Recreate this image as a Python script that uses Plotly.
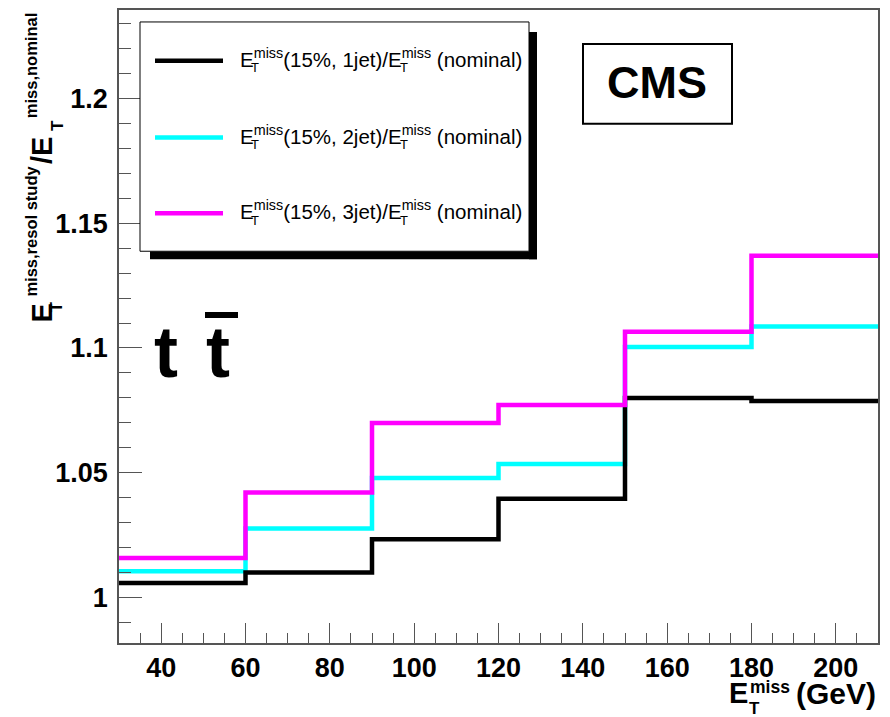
import plotly.graph_objects as go

# ---------------- data ----------------
bin_edges = [30, 60, 90, 120, 150, 180, 210]
ratio_1jet = [1.0057, 1.0099, 1.0232, 1.0395, 1.0799, 1.0787]
ratio_2jet = [1.0104, 1.0275, 1.0478, 1.0534, 1.1004, 1.1086]
ratio_3jet = [1.0157, 1.0420, 1.0699, 1.0771, 1.1065, 1.1370]
series_names = ["1jet", "2jet", "3jet"]
series_colors = ["#000000", "#00ffff", "#ff00ff"]
x_tick_vals = [40, 60, 80, 100, 120, 140, 160, 180, 200]
x_tick_text = ["40", "60", "80", "100", "120", "140", "160", "180", "200"]
y_tick_vals = [1.0, 1.05, 1.1, 1.15, 1.2]
y_tick_text = ["1", "1.05", "1.1", "1.15", "1.2"]
x_range = [30, 210]
y_range = [0.9816, 1.2356]

# ---------------- geometry helpers (pixel -> paper) ----------------
W, H = 890, 717
L, R, T, B = 119, 878, 8, 643


def px(x):
    return (x - L) / (R - L)


def py(y):
    return (B - y) / (B - T)


FONT = "Liberation Sans"

fig = go.Figure()


def step_y(vals):
    return list(vals) + [vals[-1]]


series = {"1jet": ratio_1jet, "2jet": ratio_2jet, "3jet": ratio_3jet}
# drawing order as in the reference: cyan, black, magenta
for name in ["2jet", "1jet", "3jet"]:
    i = series_names.index(name)
    fig.add_trace(go.Scatter(
        x=bin_edges, y=step_y(series[name]), mode="lines",
        line=dict(color=series_colors[i], width=4.5, shape="hv"),
        showlegend=False, hoverinfo="skip"))

shapes = []
annotations = []

# ---------------- custom legend ----------------
# shadow
shapes.append(dict(type="rect", xref="paper", yref="paper", layer="above",
                   x0=px(150), x1=px(537), y0=py(258), y1=py(250),
                   fillcolor="black", line=dict(width=0)))
shapes.append(dict(type="rect", xref="paper", yref="paper", layer="above",
                   x0=px(529), x1=px(537), y0=py(258), y1=py(30),
                   fillcolor="black", line=dict(width=0)))
# box
shapes.append(dict(type="rect", xref="paper", yref="paper", layer="above",
                   x0=px(140), x1=px(529), y0=py(250), y1=py(20),
                   fillcolor="white", line=dict(color="black", width=1)))
row_y = [59, 136, 212]
for i, name in enumerate(series_names):
    yy = row_y[i]
    shapes.append(dict(type="line", xref="paper", yref="paper", layer="above",
                       x0=px(155), x1=px(223), y0=py(yy), y1=py(yy),
                       line=dict(color=series_colors[i], width=4.5)))
    annotations.append(dict(
        xref="paper", yref="paper", x=px(238), y=py(yy - 3),
        xanchor="left", yanchor="middle", showarrow=False,
        text="E<sup>miss</sup>(15%, " + name + ")/E<sup>miss</sup> (nominal)",
        font=dict(family=FONT, size=20.5, color="black")))
    for tx in [254.5, 404]:
        annotations.append(dict(
            xref="paper", yref="paper", x=px(tx), y=py(yy + 7),
            xanchor="center", yanchor="middle", showarrow=False,
            text="T", font=dict(family=FONT, size=13, color="black")))

# ---------------- CMS box ----------------
shapes.append(dict(type="rect", xref="paper", yref="paper", layer="above",
                   x0=px(583), x1=px(732), y0=py(122), y1=py(42),
                   fillcolor="white", line=dict(color="black", width=2)))
annotations.append(dict(xref="paper", yref="paper", x=px(657), y=py(81),
                        xanchor="center", yanchor="middle", showarrow=False,
                        text="<b>CMS</b>",
                        font=dict(family=FONT, size=45, color="black")))

# ---------------- t tbar ----------------
for tx in [166, 217.5]:
    annotations.append(dict(xref="paper", yref="paper", x=px(tx), y=py(351),
                            xanchor="center", yanchor="middle", showarrow=False,
                            text="<b>t</b>",
                            font=dict(family=FONT, size=72, color="black")))
shapes.append(dict(type="rect", xref="paper", yref="paper", layer="above",
                   x0=px(205), x1=px(238), y0=py(317), y1=py(311),
                   fillcolor="black", line=dict(width=0)))

# ---------------- x axis title ----------------
annotations.append(dict(xref="paper", yref="paper", x=px(878), y=py(694),
                        xanchor="right", yanchor="middle", showarrow=False,
                        text="<b>(GeV)</b>",
                        font=dict(family=FONT, size=30, color="black")))
annotations.append(dict(xref="paper", yref="paper", x=px(738), y=py(693),
                        xanchor="center", yanchor="middle", showarrow=False,
                        text="<b>E</b>",
                        font=dict(family=FONT, size=29, color="black")))
annotations.append(dict(xref="paper", yref="paper", x=px(748), y=py(687),
                        xanchor="left", yanchor="middle", showarrow=False,
                        text="<b>miss</b>",
                        font=dict(family=FONT, size=17.5, color="black")))
annotations.append(dict(xref="paper", yref="paper", x=px(754), y=py(709),
                        xanchor="center", yanchor="middle", showarrow=False,
                        text="<b>T</b>",
                        font=dict(family=FONT, size=17, color="black")))

# ---------------- y axis title (rotated pieces) ----------------
ytitle_pieces = [
    # text, size, x_center(px), y_bottom(px)
    ("<b>E</b>", 29, 42, 324),
    ("<b>T</b>", 17, 57, 314),
    ("<b>miss,resol study</b>", 16.5, 31, 298),
    ("<b>/E</b>", 29, 42, 165),
    ("<b>T</b>", 17, 57, 132),
    ("<b>miss,nominal</b>", 16.5, 31, 119),
]
for txt, sz, xc, yb in ytitle_pieces:
    annotations.append(dict(xref="paper", yref="paper", x=px(xc), y=py(yb),
                            xanchor="center", yanchor="bottom", showarrow=False,
                            textangle=-90, text=txt,
                            font=dict(family=FONT, size=sz, color="black")))

fig.update_layout(
    width=W, height=H,
    margin=dict(l=L, r=W - R, t=T, b=H - B, pad=0),
    paper_bgcolor="white", plot_bgcolor="white",
    shapes=shapes, annotations=annotations,
    showlegend=False,
    xaxis=dict(
        range=x_range, showgrid=False, zeroline=False,
        showline=True, mirror=True, linecolor="#555", linewidth=1.5,
        tickmode="array", tickvals=x_tick_vals, ticktext=x_tick_text,
        ticks="inside", ticklen=20, tickwidth=1.2, tickcolor="#555",
        minor=dict(dtick=5, tick0=30, ticks="inside", ticklen=10,
                   tickwidth=1.2, tickcolor="#555", showgrid=False),
        tickfont=dict(family=FONT, size=27, color="black", weight="bold"),
        ticklabelstandoff=0,
    ),
    yaxis=dict(
        range=y_range, showgrid=False, zeroline=False,
        showline=True, mirror=True, linecolor="#555", linewidth=1.5,
        tickmode="array", tickvals=y_tick_vals, ticktext=y_tick_text,
        ticks="inside", ticklen=23, tickwidth=1.2, tickcolor="#555",
        minor=dict(dtick=0.01, tick0=1.0, ticks="inside", ticklen=12,
                   tickwidth=1.2, tickcolor="#555", showgrid=False),
        tickfont=dict(family=FONT, size=27, color="black", weight="bold"),
        ticklabelstandoff=4,
    ),
)

fig.write_html("out.html")
